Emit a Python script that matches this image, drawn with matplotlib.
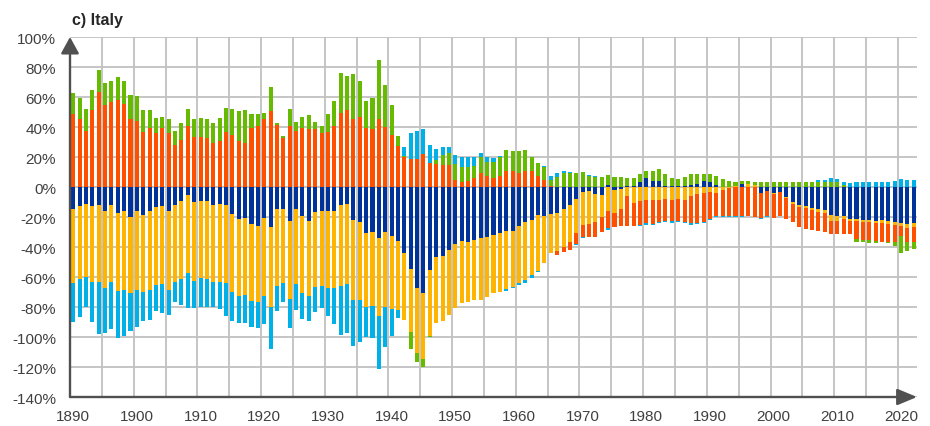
import numpy as np
import matplotlib
matplotlib.use("Agg")
import matplotlib.pyplot as plt

plt.rcParams['font.family'] = ['Liberation Sans', 'DejaVu Sans']

years = np.arange(1890, 2023)

dark_blue = [
    -14.7, -12.9, -11.3, -12.9, -12.0, -16.2, -12.0, -17.3, -16.2, -19.8,
    -16.2, -18.7, -16.2, -13.6, -12.9, -16.2, -12.0, -9.6, -5.3, -10.2,
    -9.6, -9.6, -12.0, -11.3, -12.0, -18.0, -21.3, -20.7, -24.7, -25.8,
    -20.7, -26.4, -14.7, -14.7, -22.4, -14.7, -19.6, -22.4, -16.4, -15.8,
    -16.2, -16.2, -12.0, -11.3, -22.0, -23.1, -30.7, -30.2, -34.2, -30.2,
    -32.4, -35.8, -44.2, -54.7, -67.3, -70.9, -55.3, -46.9, -46.0, -41.8,
    -38.2, -35.8, -36.4, -35.3, -34.0, -33.6, -31.8, -30.7, -29.1, -29.1,
    -25.8, -23.6, -22.0, -18.7, -19.3, -18.0, -17.3, -14.7, -11.8, -8.0,
    -3.6, -2.9, -4.7, -5.1, 1.6, -2.0, -1.3, 0.9, 0.9, 3.6,
    6.0, 4.2, 4.2, 0.9, 0.9, 0.9, 0.9, 1.6, 2.0, 3.8,
    3.1, 1.6, 0.0, 0.0, 0.0, 2.0, 0.0, 0.0, -4.2, -2.4,
    -4.2, -3.6, -6.9, -9.8, -12.0, -12.9, -14.2, -14.7, -15.3, -18.7,
    -19.6, -19.6, -21.3, -21.3, -21.8, -22.0, -22.4, -22.0, -22.4, -23.1,
    -24.0, -24.7, -24.0,
]

yellow = [
    -49.5, -48.4, -48.5, -50.2, -51.1, -51.4, -51.1, -51.8, -52.2, -51.1,
    -52.2, -51.5, -52.2, -51.5, -51.8, -52.2, -51.1, -51.7, -52.0, -52.2,
    -51.3, -51.7, -51.1, -51.8, -52.2, -52.2, -51.6, -51.3, -51.5, -51.1,
    -52.2, -53.8, -51.1, -49.5, -52.3, -50.0, -51.1, -50.0, -50.3, -50.0,
    -51.4, -51.4, -53.8, -53.6, -53.1, -52.0, -49.5, -49.4, -52.0, -50.0,
    -48.9, -46.4, -44.5, -42.2, -43.1, -43.8, -43.8, -43.5, -43.6, -43.8,
    -42.7, -41.8, -40.5, -39.8, -41.1, -40.0, -38.6, -39.3, -39.1, -37.3,
    -38.2, -38.4, -36.4, -37.1, -31.4, -26.2, -25.1, -25.1, -24.6, -22.9,
    -21.7, -21.8, -18.4, -14.7, -15.8, -15.6, -13.4, -6.2, -10.7, -9.1,
    -8.7, -8.7, -8.7, -8.0, -8.7, -8.0, -8.7, -5.8, -4.7, -4.2,
    -3.6, -4.2, -2.0, -0.7, 0.9, 0.0, 2.0, 1.6, 0.0, 0.0,
    -0.5, 0.0, -0.4, -1.3, -1.6, -1.3, -1.1, -1.7, -2.0, -3.7,
    -2.8, -1.7, -1.6, -1.6, -1.8, -1.3, -1.6, -2.0, -2.3, -2.2,
    -2.2, -2.4, -2.4,
]

orange = [
    48.7, 45.3, 37.6, 51.3, 63.1, 54.7, 56.4, 58.0, 55.3, 45.3,
    44.2, 36.9, 39.1, 36.0, 39.1, 35.8, 28.2, 31.6, 40.9, 33.6,
    33.6, 32.4, 29.1, 30.9, 36.7, 34.9, 30.9, 29.1, 39.1, 40.9,
    45.3, 50.4, 41.6, 32.7, 40.9, 37.6, 39.1, 38.4, 38.4, 35.8,
    36.7, 40.9, 49.6, 51.3, 45.3, 46.9, 39.1, 38.4, 45.3, 40.2,
    34.9, 27.6, 19.8, 18.7, 18.7, 22.0, 16.0, 15.3, 14.7, 14.7,
    4.9, 3.3, 4.2, 5.8, 9.3, 7.6, 6.0, 7.6, 10.4, 10.4,
    9.3, 10.4, 10.4, 7.6, 4.9, 0.4, -2.7, -3.8, -5.4, -7.1,
    -7.8, -8.4, -10.5, -10.4, -11.8, -9.3, -11.1, -19.6, -15.1, -16.2,
    -15.5, -16.0, -14.9, -14.9, -14.2, -14.9, -14.9, -18.4, -19.5, -19.4,
    -17.7, -14.9, -17.1, -18.4, -19.1, -19.1, -19.1, -19.8, -16.5, -16.7,
    -16.0, -15.5, -14.0, -12.5, -13.3, -13.8, -13.1, -12.7, -12.5, -9.2,
    -9.2, -10.0, -8.4, -11.8, -11.5, -11.8, -11.8, -12.4, -11.7, -11.6,
    -6.2, -9.3, -10.0,
]

green = [
    13.7, 14.0, 14.4, 13.6, 14.7, 14.6, 14.5, 15.3, 15.6, 16.0,
    16.2, 14.4, 12.2, 10.0, 7.8, 9.5, 9.4, 10.8, 11.1, 11.7,
    12.4, 12.9, 13.3, 15.1, 16.2, 17.1, 19.5, 22.2, 9.6, 7.8,
    4.3, 16.0, 0.8, 1.3, 11.1, 6.0, 7.8, 9.4, 5.2, 5.1,
    12.0, 16.4, 26.4, 22.9, 29.8, 24.0, 18.2, 21.2, 39.1, 28.0,
    19.8, 6.6, 1.0, -11.3, -6.5, -5.5, -0.7, 2.7, 6.9, 7.7,
    10.4, 9.8, 9.4, 8.4, 10.5, 9.3, 10.4, 12.2, 14.3, 13.4,
    14.5, 14.3, 9.8, 8.2, 8.7, 4.5, 6.4, 9.3, 9.3, 9.3,
    10.0, 7.6, 6.4, 6.9, 6.6, 6.9, 6.4, 4.9, 4.9, 5.1,
    4.9, 6.2, 7.8, 7.8, 5.1, 4.4, 6.0, 7.1, 6.7, 4.9,
    5.6, 6.0, 5.3, 4.2, 2.2, 2.2, 2.2, 1.5, 3.1, 3.1,
    3.1, 3.1, 3.1, 3.6, 3.6, 3.6, 3.6, 3.6, 3.6, 3.6,
    3.6, 1.5, 0.0, -1.7, -1.8, -2.2, -1.5, -0.5, -0.9, -2.7,
    -11.8, -6.0, -4.9,
]

light_blue = [
    -25.6, -25.1, -20.4, -27.1, -34.9, -29.7, -31.6, -31.6, -30.7, -24.9,
    -24.7, -19.4, -20.3, -17.8, -19.5, -16.9, -13.8, -17.1, -23.6, -18.5,
    -18.9, -18.5, -17.1, -18.2, -22.0, -19.4, -17.8, -18.7, -16.9, -17.1,
    -18.4, -27.6, -17.1, -12.7, -19.3, -17.3, -17.3, -17.2, -16.9, -15.1,
    -18.6, -23.7, -32.9, -32.4, -30.7, -28.5, -20.0, -21.1, -35.1, -26.7,
    -17.8, -5.2, 5.6, 17.1, 18.9, 16.4, 12.2, 7.6, 4.8, 4.0,
    5.8, 6.7, 6.2, 5.6, 2.6, 3.3, 2.9, 0.6, -1.1, -1.2,
    -1.1, -2.0, -2.0, -0.6, 0.6, 2.7, 2.7, 1.1, 0.7, -0.7,
    -0.9, 0.6, 0.9, 0.0, -0.8, 0.0, 0.0, 0.0, 0.0, -0.9,
    -1.1, -0.6, -0.6, -0.7, -0.9, -0.5, -0.6, -0.9, -0.7, -0.6,
    -0.7, -0.7, -0.7, -0.7, -0.7, -0.7, -0.5, 0.0, -0.6, -0.7,
    0.0, 0.0, 0.0, 0.0, 0.0, 0.0, 0.0, 0.8, 1.3, 2.2,
    1.7, 1.6, 2.4, 3.1, 3.1, 3.1, 3.1, 3.1, 3.1, 4.2,
    5.3, 4.9, 4.7,
]

series = [dark_blue, yellow, orange, green, light_blue]
colors = ['#003399', '#FFB400', '#FF5000', '#66BB00', '#00B0E6']

y_ticks = list(range(-140, 101, 20))
x_label_years = list(range(1890, 2021, 10))

fig = plt.figure(figsize=(9.3, 4.27), dpi=100)
ax = fig.add_axes([70 / 930, 1 - 398 / 427, (917 - 70) / 930, (398 - 38) / 427])

pos_base = np.zeros(len(years))
neg_base = np.zeros(len(years))
for vals, col in zip(series, colors):
    v = np.asarray(vals, dtype=float)
    bottom = np.where(v >= 0, pos_base, neg_base)
    ax.bar(years, v, bottom=bottom, width=0.64, color=col, linewidth=0, zorder=3)
    pos_base = pos_base + np.where(v > 0, v, 0)
    neg_base = neg_base + np.where(v < 0, v, 0)

ax.set_xlim(1889.5, 2022.5)
ax.set_ylim(-140, 100)

ax.set_yticks(y_ticks)
ax.set_yticklabels([f"{t}%" for t in y_ticks])
ax.set_xticks(x_label_years)
ax.set_xticklabels([str(y) for y in x_label_years])
ax.set_xticks(np.arange(1894.5, 2022, 5), minor=True)

ax.tick_params(axis='both', which='both', length=0, labelsize=11, colors='#404040')
ax.tick_params(axis='y', pad=10)
ax.tick_params(axis='x', pad=9)

ax.grid(True, which='minor', axis='x', color='#C0C0C0', lw=1.3, zorder=0)
ax.grid(True, which='major', axis='y', color='#C0C0C0', lw=1.3, zorder=0)
ax.grid(False, which='major', axis='x')
ax.set_axisbelow(True)

for s in ax.spines.values():
    s.set_visible(False)

axis_col = '#505050'
ax.annotate('', xy=(0, 1.0), xytext=(0, 0), xycoords='axes fraction',
            arrowprops=dict(arrowstyle='-|>,head_length=1.0,head_width=0.55',
                            color=axis_col, lw=1.7, shrinkA=0, shrinkB=0,
                            mutation_scale=10), annotation_clip=False, zorder=5)
ax.annotate('', xy=(1.0, 0), xytext=(0, 0), xycoords='axes fraction',
            arrowprops=dict(arrowstyle='-|>,head_length=1.2,head_width=0.5',
                            color=axis_col, lw=1.7, shrinkA=0, shrinkB=0,
                            mutation_scale=10), annotation_clip=False, zorder=5)

fig.text(72 / 930, 1 - 20 / 427, 'c) Italy', fontsize=11.5, fontweight='bold',
         ha='left', va='center', color='#262626')

fig.savefig('out.png', dpi=100)
